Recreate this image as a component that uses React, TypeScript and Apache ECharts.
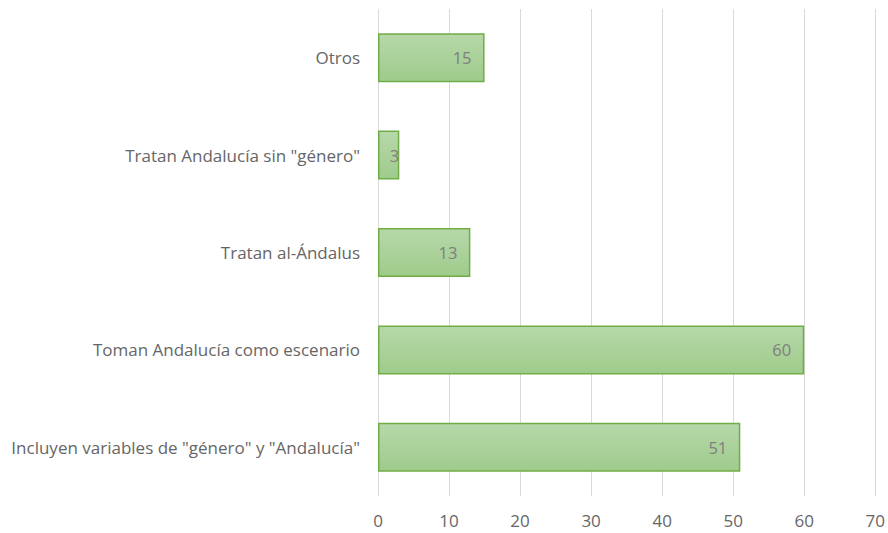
import React, { useEffect, useRef } from "react";
import * as echarts from "echarts";

const categories = [
  'Incluyen variables de "género" y "Andalucía"',
  "Toman Andalucía como escenario",
  "Tratan al-Ándalus",
  'Tratan Andalucía sin "género"',
  "Otros",
];
const values = [51, 60, 13, 3, 15];
const xTicks = { min: 0, max: 70, interval: 10 };

const FONT = "Open Sans";

export default function App() {
  const ref = useRef<HTMLDivElement>(null);
  useEffect(() => {
    document.body.style.margin = "0";
    const chart = echarts.init(ref.current!, undefined, { renderer: "svg" });
    chart.setOption({
      animation: false,
      backgroundColor: "#ffffff",
      grid: { left: 378, right: 10, top: 9, bottom: 37, containLabel: false },
      xAxis: {
        type: "value",
        min: xTicks.min,
        max: xTicks.max,
        interval: xTicks.interval,
        axisLine: { show: false },
        axisTick: { show: false },
        splitLine: { show: true, lineStyle: { color: "#d9d9d9", width: 1 } },
        axisLabel: {
          color: "#666666",
          fontFamily: FONT,
          fontSize: 17,
          margin: 16,
        },
      },
      yAxis: {
        type: "category",
        data: categories,
        axisLine: { show: false },
        axisTick: { show: false },
        splitLine: { show: false },
        axisLabel: {
          color: "#666666",
          fontFamily: FONT,
          fontSize: 17,
          margin: 18,
        },
      },
      series: [
        {
          type: "bar",
          data: values.map((v) =>
            v < 5 ? { value: v, label: { distance: 0 } } : v
          ),
          barWidth: 49,
          itemStyle: {
            color: new echarts.graphic.LinearGradient(0, 0, 0, 1, [
              { offset: 0, color: "#b7d8aa" },
              { offset: 1, color: "#9ecb8b" },
            ]),
            borderColor: "#70ad47",
            borderWidth: 1.5,
          },
          label: {
            show: true,
            position: "insideRight",
            distance: 13,
            color: "#7f7f7f",
            fontFamily: FONT,
            fontSize: 16.5,
          },
        },
      ],
    });
    return () => chart.dispose();
  }, []);
  return (
    <div
      ref={ref}
      style={{ position: "absolute", left: 0, top: 0, width: 888, height: 533 }}
    />
  );
}
